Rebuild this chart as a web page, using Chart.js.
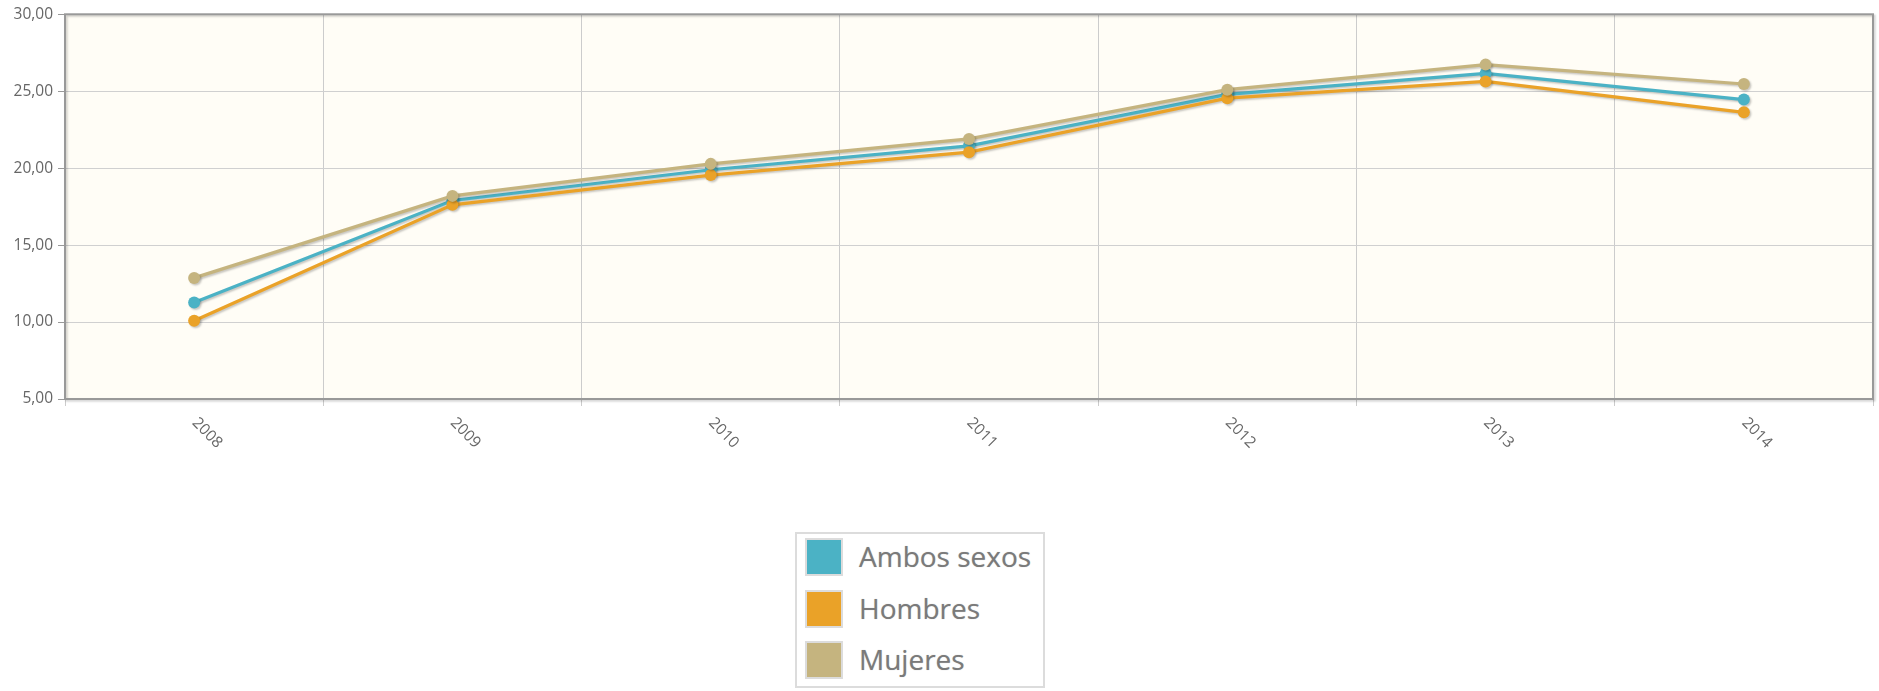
<!DOCTYPE html>
<html>
<head>
<meta charset="utf-8">
<script src="https://cdn.jsdelivr.net/npm/chart.js@4"></script>
<style>
  body { margin: 0; background: #fff; font-family: "Open Sans", sans-serif; }
  #wrap { position: relative; width: 1879px; height: 691px; }
  #chartBox { position: absolute; left: 0; top: 0; width: 1879px; height: 470px; }
  #legend {
    position: absolute; left: 795px; top: 532px; width: 246px; height: 152px;
    border: 2px solid #dcdcdc; background: #fff;
  }
  .row { display: flex; align-items: flex-start; height: 51.5px; padding-left: 8px; }
  .sw { margin-top: 4px; width: 34px; height: 34px; border: 2px solid #dcdcdc; }
  .sw div { width: 28px; height: 28px; border: 3px solid; }
  .lbl { margin-left: 16px; font-size: 28px; line-height: 44px; color: #7a7a7a; text-shadow: 0 0 1px #bbb; }
</style>
</head>
<body>
<div id="wrap">
  <div id="chartBox"><canvas id="lineChart"></canvas></div>
  <div id="legend"></div>
</div>
<script>
// data
const years = ['2008', '2009', '2010', '2011', '2012', '2013', '2014'];
const ambos = [11.27, 17.9, 19.9, 21.45, 24.8, 26.16, 24.46];
const hombres = [10.08, 17.62, 19.55, 21.04, 24.55, 25.64, 23.63];
const mujeres = [12.87, 18.2, 20.28, 21.9, 25.1, 26.73, 25.47];
const seriesNames = ['Ambos sexos', 'Hombres', 'Mujeres'];
const seriesColors = ['#4bb2c5', '#eaa228', '#c5b47f'];

const tickFont = { family: 'Open Sans', size: 15.5 };

// plot background + frame
const framePlugin = {
  id: 'frame',
  beforeDraw(chart) {
    const a = chart.chartArea, ctx = chart.ctx;
    ctx.save();
    ctx.fillStyle = '#fffdf6';
    ctx.fillRect(a.left, a.top, a.right - a.left, a.bottom - a.top);
    ctx.restore();
  },
  beforeDatasetsDraw(chart) {
    const a = chart.chartArea, ctx = chart.ctx;
    ctx.save();
    ctx.shadowColor = 'rgba(0,0,0,0.2)';
    ctx.shadowOffsetX = 1.5;
    ctx.shadowOffsetY = 1.5;
    ctx.shadowBlur = 2;
    ctx.strokeStyle = '#999';
    ctx.lineWidth = 2;
    ctx.strokeRect(a.left, a.top, a.right - a.left, a.bottom - a.top);
    ctx.restore();
  }
};

// line shadows
const shadowPlugin = {
  id: 'lineShadow',
  beforeDatasetDraw(chart) {
    const ctx = chart.ctx;
    ctx.save();
    ctx.shadowColor = 'rgba(0,0,0,0.22)';
    ctx.shadowOffsetX = 1.5;
    ctx.shadowOffsetY = 1.5;
    ctx.shadowBlur = 2;
  },
  afterDatasetDraw(chart) {
    chart.ctx.restore();
  }
};

// rotated year labels (clockwise, reading downwards)
const xLabelPlugin = {
  id: 'xLabels',
  afterDraw(chart) {
    const xs = chart.scales.x, ctx = chart.ctx;
    ctx.save();
    ctx.font = tickFont.size + 'px ' + tickFont.family;
    ctx.fillStyle = '#666';
    ctx.textAlign = 'center';
    ctx.textBaseline = 'middle';
    chart.data.labels.forEach(function (lab, i) {
      const x = xs.getPixelForTick(i);
      ctx.save();
      ctx.translate(x + 13, chart.chartArea.bottom + 34);
      ctx.rotate(Math.PI / 4);
      ctx.fillText(lab, 0, 0);
      ctx.restore();
    });
    ctx.restore();
  }
};

const allData = [ambos, hombres, mujeres];
const datasets = allData.map(function (vals, i) {
  return {
    label: seriesNames[i],
    data: vals,
    borderColor: seriesColors[i],
    backgroundColor: seriesColors[i],
    borderWidth: 3.2,
    pointRadius: 6,
    pointBorderWidth: 0,
    pointBackgroundColor: seriesColors[i],
    tension: 0,
    order: 2 - i
  };
});

new Chart(document.getElementById('lineChart'), {
  type: 'line',
  data: { labels: years, datasets: datasets },
  options: {
    responsive: true,
    maintainAspectRatio: false,
    animation: false,
    layout: { padding: { top: 13, right: 0, left: 0, bottom: 0 } },
    plugins: { legend: { display: false }, tooltip: { enabled: false } },
    scales: {
      x: {
        offset: true,
        grid: { offset: true, color: '#cccccc', tickColor: '#cccccc', tickLength: 7, drawTicks: true },
        border: { display: false },
        ticks: { display: false },
        afterFit(scale) { scale.height = 71; }
      },
      y: {
        min: 5, max: 30,
        grid: { color: '#d0d0d0', tickColor: '#999', tickLength: 7 },
        border: { display: false },
        ticks: {
          stepSize: 5, padding: 5, color: '#666', font: tickFont,
          callback: function (v) { return v.toFixed(2).replace('.', ','); }
        },
        afterFit(scale) { scale.width = 65; }
      }
    }
  },
  plugins: [framePlugin, shadowPlugin, xLabelPlugin]
});

// legend box under the chart
const legendEl = document.getElementById('legend');
seriesNames.forEach(function (name, i) {
  const row = document.createElement('div');
  row.className = 'row';
  const sw = document.createElement('div');
  sw.className = 'sw';
  const inner = document.createElement('div');
  inner.style.background = seriesColors[i];
  inner.style.borderColor = seriesColors[i] + 'aa';
  sw.appendChild(inner);
  const lbl = document.createElement('span');
  lbl.className = 'lbl';
  lbl.textContent = name;
  row.appendChild(sw);
  row.appendChild(lbl);
  legendEl.appendChild(row);
});
</script>
</body>
</html>
